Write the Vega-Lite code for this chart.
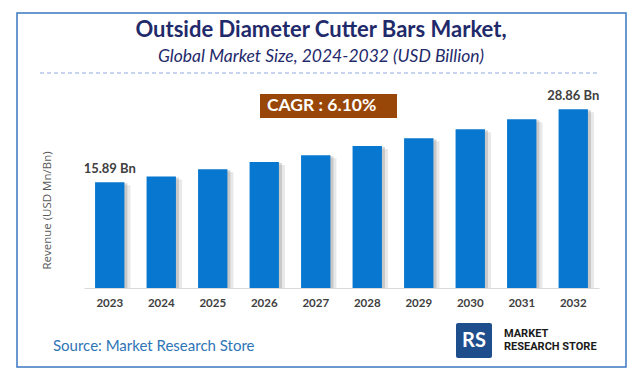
{
  "$schema": "https://vega.github.io/schema/vega-lite/v6.json",
  "width": 515,
  "height": 208,
  "autosize": {"type": "none"},
  "padding": {"left": 84, "top": 80, "right": 37, "bottom": 95},
  "background": "white",
  "config": {"view": {"stroke": null}, "font": "Lato"},
  "layer": [
    {
      "data": {"values": [{}]},
      "mark": {"type": "rect", "fill": null, "stroke": "#3A78C2", "strokeWidth": 1.5},
      "encoding": {
        "x": {"value": -67}, "x2": {"value": 542},
        "y": {"value": -67}, "y2": {"value": 287}
      }
    },
    {
      "data": {"values": [{"t": "Outside Diameter Cutter Bars Market,"}]},
      "mark": {"type": "text", "align": "center", "baseline": "middle", "font": "Lato", "fontSize": 22, "fontWeight": "bold", "color": "#1F2A6B"},
      "encoding": {"x": {"value": 237}, "y": {"value": -50}, "text": {"field": "t"}}
    },
    {
      "data": {"values": [{"t": "Global Market Size, 2024-2032 (USD Billion)"}]},
      "mark": {"type": "text", "align": "center", "baseline": "middle", "font": "Lato", "fontSize": 17.5, "fontStyle": "italic", "color": "#1F2A6B"},
      "encoding": {"x": {"value": 237}, "y": {"value": -23}, "text": {"field": "t"}}
    },
    {
      "data": {"values": [{}]},
      "mark": {"type": "rule", "stroke": "#8FAADC", "strokeWidth": 1, "strokeDash": [4, 3]},
      "encoding": {
        "x": {"value": -44}, "x2": {"value": 516},
        "y": {"value": -7}
      }
    },
    {
      "data": {"values": [{}]},
      "mark": {"type": "rect", "fill": "#994708"},
      "encoding": {
        "x": {"value": 176}, "x2": {"value": 313},
        "y": {"value": 14}, "y2": {"value": 38}
      }
    },
    {
      "data": {"values": [{"t": "CAGR : 6.10%"}]},
      "mark": {"type": "text", "align": "left", "baseline": "middle", "font": "Lato", "fontSize": 17.5, "fontWeight": "bold", "color": "white"},
      "encoding": {
        "x": {"value": 183}, "y": {"value": 26},
        "text": {"field": "t"}
      }
    },
    {
      "data": {"values": [
        {"year": "2023", "value": 15.89, "label": "15.89 Bn"},
        {"year": "2024", "value": 16.89, "label": ""},
        {"year": "2025", "value": 18.20, "label": ""},
        {"year": "2026", "value": 19.50, "label": ""},
        {"year": "2027", "value": 20.69, "label": ""},
        {"year": "2028", "value": 22.34, "label": ""},
        {"year": "2029", "value": 23.71, "label": ""},
        {"year": "2030", "value": 25.31, "label": ""},
        {"year": "2031", "value": 27.09, "label": ""},
        {"year": "2032", "value": 28.86, "label": "28.86 Bn"}
      ]},
      "encoding": {
        "x": {
          "field": "year", "type": "ordinal",
          "scale": {"paddingInner": 0.43, "paddingOuter": 0.215},
          "axis": {
            "title": null, "labelAngle": 0, "ticks": false,
            "domainColor": "#D9D9D9", "domainWidth": 1,
            "labelFont": "Lato", "labelFontSize": 11.5, "labelFontWeight": "bold",
            "labelColor": "#404040", "labelPadding": 9
          }
        },
        "y": {
          "field": "value", "type": "quantitative",
          "scale": {"domain": [-2.94, 34.07], "nice": false, "zero": false},
          "axis": {
            "title": "Revenue (USD Mn/Bn)", "labels": false, "ticks": false,
            "domain": false, "grid": false,
            "titleFont": "Open Sans", "titleFontSize": 11.5, "titleFontWeight": "normal",
            "titleColor": "#595959", "titleAngle": -90,
            "titleX": -37, "titleY": 130, "titleAlign": "center", "titleBaseline": "middle"
          }
        },
        "y2": {"datum": -2.94}
      },
      "layer": [
        {"mark": {"type": "bar", "color": "#7F7F7F", "opacity": 0.18, "xOffset": 6, "yOffset": 3}},
        {"mark": {"type": "bar", "color": "#7F7F7F", "opacity": 0.3, "xOffset": 3, "yOffset": 1}},
        {"mark": {"type": "bar", "color": "#0777CF"}},
        {
          "transform": [{"filter": "datum.label != ''"}],
          "mark": {"type": "text", "baseline": "bottom", "dy": -6, "font": "Lato", "fontSize": 13, "fontWeight": "bold", "color": "#404040"},
          "encoding": {"text": {"field": "label"}, "y2": null}
        }
      ]
    },
    {
      "data": {"values": [{"t": "Source: Market Research Store"}]},
      "mark": {"type": "text", "align": "left", "baseline": "middle", "font": "Lato", "fontSize": 15, "color": "#2E75B6"},
      "encoding": {"x": {"value": -31}, "y": {"value": 266}, "text": {"field": "t"}}
    },
    {
      "data": {"values": [{}]},
      "mark": {"type": "rect", "fill": "#1F4E8C", "cornerRadius": 2},
      "encoding": {
        "x": {"value": 372}, "x2": {"value": 408},
        "y": {"value": 243}, "y2": {"value": 278}
      }
    },
    {
      "data": {"values": [{"t": "RS"}]},
      "mark": {"type": "text", "align": "center", "baseline": "middle", "font": "Lato", "fontSize": 20, "fontWeight": "bold", "color": "#FFFFFF"},
      "encoding": {"x": {"value": 390}, "y": {"value": 261}, "text": {"field": "t"}}
    },
    {
      "data": {"values": [{"t": "MARKET"}]},
      "mark": {"type": "text", "align": "left", "baseline": "alphabetic", "font": "Roboto", "fontSize": 11, "fontWeight": "bold", "color": "#1A1A1A"},
      "encoding": {"x": {"value": 420}, "y": {"value": 257}, "text": {"field": "t"}}
    },
    {
      "data": {"values": [{"t": "RESEARCH STORE"}]},
      "mark": {"type": "text", "align": "left", "baseline": "alphabetic", "font": "Roboto", "fontSize": 11, "fontWeight": "bold", "color": "#1A1A1A"},
      "encoding": {"x": {"value": 420}, "y": {"value": 270}, "text": {"field": "t"}}
    }
  ]
}
